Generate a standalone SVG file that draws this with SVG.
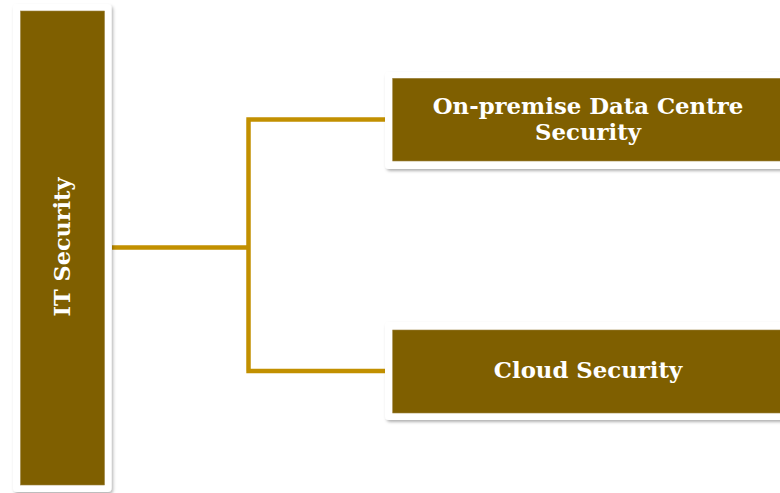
<svg xmlns="http://www.w3.org/2000/svg" width="780" height="493" viewBox="0 0 780 493">
<defs>
<filter id="sh" x="-10%" y="-10%" width="130%" height="130%">
<feDropShadow dx="1.5" dy="2" stdDeviation="1.5" flood-color="#000" flood-opacity="0.3"/>
</filter>
<style>
.frame{fill:#fff;filter:url(#sh);}
.fill{fill:#7F5F00;stroke:#9c8240;stroke-width:0.6;}
.lbl{fill:#fff;font-family:"DejaVu Serif","Liberation Serif",serif;font-weight:bold;text-anchor:middle;}
.conn{fill:none;stroke:#C29000;stroke-width:4.5;stroke-linejoin:miter;}
</style>
</defs>
<rect width="780" height="493" fill="#fff"/>
<g id="connectors">
<path class="conn" d="M112 247.5H248.5M248.5 119.5V371M246.3 119.5H386M246.3 371H386"/>
</g>
<g id="it-security">
<rect class="frame" x="13" y="4" width="98.5" height="488" rx="4"/>
<rect class="fill" x="20.5" y="11" width="84" height="474"/>
<text class="lbl" font-size="22.4" transform="translate(70 247) rotate(-90)">IT Security</text>
</g>
<g id="onprem">
<rect class="frame" x="385" y="72" width="410" height="97" rx="4"/>
<rect class="fill" x="392.7" y="78.3" width="400" height="82.7"/>
<text class="lbl" font-size="22.8"><tspan x="588" y="114">On-premise Data Centre</tspan><tspan x="588" y="140">Security</tspan></text>
</g>
<g id="cloud">
<rect class="frame" x="385" y="322" width="410" height="98" rx="4"/>
<rect class="fill" x="392.7" y="330" width="400" height="83"/>
<text class="lbl" font-size="22.8" x="588" y="378">Cloud Security</text>
</g>
</svg>
